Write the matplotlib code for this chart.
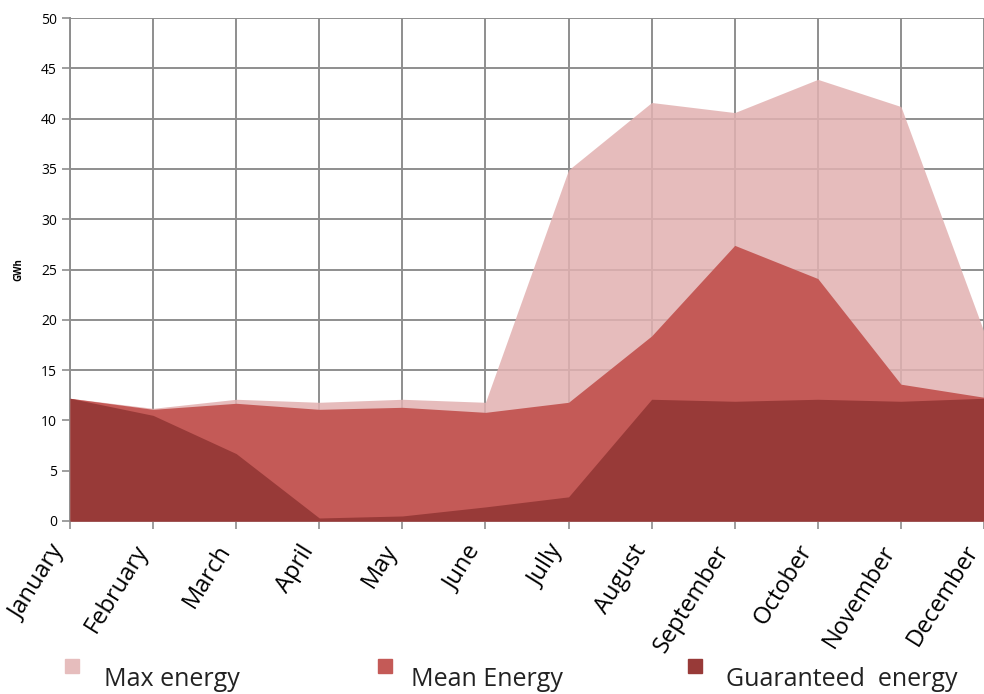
import matplotlib.pyplot as plt
from matplotlib.patches import Rectangle
from matplotlib.transforms import ScaledTranslation
import numpy as np

months = ["January", "February", "March", "April", "May", "June",
          "Jully", "August", "September", "October", "November", "December"]
max_energy = [12.2, 11.2, 12.1, 11.8, 12.1, 11.8, 34.9, 41.6, 40.6, 43.9, 41.2, 18.8]
mean_energy = [12.2, 11.1, 11.7, 11.1, 11.3, 10.8, 11.8, 18.4, 27.4, 24.1, 13.6, 12.3]
guaranteed_energy = [12.2, 10.5, 6.7, 0.3, 0.5, 1.4, 2.4, 12.1, 11.9, 12.1, 11.9, 12.2]

series_names = ["Max energy", "Mean Energy", "Guaranteed  energy"]
series_colors = ["#e6bdbd", "#c45a57", "#983a38"]

plt.rcParams['font.family'] = ['Open Sans', 'DejaVu Sans']

W, H = 984, 694
fig = plt.figure(figsize=(W / 100, H / 100), dpi=100)
ax = fig.add_axes([70 / W, 1 - 521 / H, 914 / W, 503 / H])

x = np.arange(len(months))
grid_c = "#8e8e8e"

# light area is slightly transparent so the grid shows through it
ax.fill_between(x, 0, max_energy, color=(226/255, 177/255, 177/255), alpha=0.85,
                lw=0, zorder=2)
ax.fill_between(x, 0, mean_energy, color=series_colors[1], lw=0, zorder=3)
ax.fill_between(x, 0, guaranteed_energy, color=series_colors[2], lw=0, zorder=4)

ax.set_xlim(0, 11)
ax.set_ylim(0, 50)
ax.set_yticks(range(0, 51, 5))
ax.set_xticks(x)
ax.set_xticklabels(months, rotation=58, ha="right", va="top", fontsize=17)
# keep the last month label inside the figure
last = ax.get_xticklabels()[-1]
last.set_transform(last.get_transform() + ScaledTranslation(-0.13, 0, fig.dpi_scale_trans))
ax.tick_params(axis="y", labelsize=10, length=6, color=grid_c, width=1.2)
ax.tick_params(axis="x", length=6, color=grid_c, width=1.2, pad=8)
ax.grid(True, color=grid_c, lw=1.4, zorder=1)
ax.set_axisbelow(True)
for s in ["top", "right"]:
    ax.spines[s].set_visible(False)
for s in ["left", "bottom"]:
    ax.spines[s].set_color(grid_c)
    ax.spines[s].set_linewidth(1.4)

ax.set_ylabel("GWh", fontsize=7, fontweight="bold", labelpad=12)

# legend row along the bottom edge
sq_x = [65, 378, 688]
txt_x = [104, 411, 726]
for sx, tx, name, c in zip(sq_x, txt_x, series_names, series_colors):
    fig.patches.append(Rectangle((sx / W, 1 - 673 / H), 14 / W, 14 / H,
                                 transform=fig.transFigure, color=c))
    fig.text(tx / W, 1 - 679 / H, name, fontsize=18, va="center", ha="left",
             color="#222222")

fig.savefig("out.png", dpi=100)
